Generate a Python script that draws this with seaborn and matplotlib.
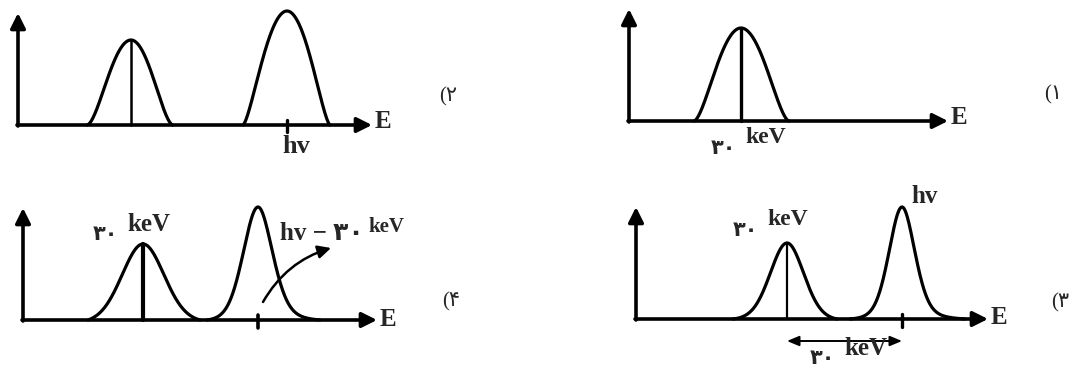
import numpy as np
import matplotlib
matplotlib.use("Agg")
import matplotlib.pyplot as plt
import seaborn as sns

sns.set_style("white")
plt.rcParams['font.family'] = ['Liberation Serif', 'DejaVu Sans']

# --- data (x, y in pixel units from each panel's origin) ---
panel_tags = ["(۱", "(۲", "(۳", "(۴"]
kev_digits = "۳۰"
kev_unit = "keV"
hv_label = "hv"
diff_label = "hv − ۳۰"
axis_label = "E"

# top panels: smooth bell peaks (center, height, half base, shape power)
p1_centers = [112]
p1_heights = [93]
p1_foot_l = [47]
p1_foot_r = [48]
p1_power = [1.7]

p2_centers = [113, 269]
p2_heights = [85, 114]
p2_foot_l = [44, 44]
p2_foot_r = [42, 43]
p2_power = [1.8, 1.5]

# bottom panels: gaussian-like peaks with tails
p3_centers = [151, 266]
p3_heights = [76, 112]
p3_hwhm = [20, 15.5]
p3_foot_l = [54, 52]
p3_foot_r = [50, 63]
p3_tail_l = [0.15, 0.25]
p3_tail_r = [0.15, 0.35]

p4_centers = [120, 235]
p4_heights = [76, 113]
p4_hwhm = [25, 17.5]
p4_foot_l = [55, 51]
p4_foot_r = [57, 62]
p4_tail_l = [0.1, 0.2]
p4_tail_r = [0.1, 0.35]

FW, FH = 1072, 379
fig = plt.figure(figsize=(FW / 100, FH / 100), dpi=100)


def side(u, hw, foot, eta):
    p = (1 - eta) * np.exp(-np.log(2) * (u / hw) ** 2) + eta / (1 + (u / hw) ** 2)
    p0 = (1 - eta) * np.exp(-np.log(2) * (foot / hw) ** 2) + eta / (1 + (foot / hw) ** 2)
    return np.clip((p - p0) / (1 - p0), 0, None)


def tail_peak(c, h, hw, fl, fr, el, er):
    ul = np.linspace(fl, 0, 120)
    ur = np.linspace(0, fr, 120)[1:]
    x = np.concatenate([c - ul, c + ur])
    y = np.concatenate([side(ul, hw, fl, el), side(ur, hw, fr, er)]) * h
    return x, y


def bell_peak(c, h, fl, fr, n):
    tl = np.linspace(1, 0, 120)
    tr = np.linspace(0, 1, 120)[1:]
    x = np.concatenate([c - tl * fl, c + tr * fr])
    y = np.concatenate([(1 - tl ** 2) ** n, (1 - tr ** 2) ** n]) * h
    return x, y


def make_panel(box, origin):
    x0, y0, x1, y1 = box
    ox, oy = origin
    ax = fig.add_axes([x0 / FW, 1 - y1 / FH, (x1 - x0) / FW, (y1 - y0) / FH])
    ax.set_xlim(x0 - ox, x1 - ox)
    ax.set_ylim(oy - y1, oy - y0)
    ax.axis('off')
    return ax


def draw_axes(ax, xlen, ylen, e_y):
    arrow = dict(arrowstyle='-|>,head_length=0.6,head_width=0.3', lw=2.6,
                 color='black', mutation_scale=15, shrinkA=0, shrinkB=0)
    ax.annotate('', xy=(xlen, 0), xytext=(-1, 0), arrowprops=arrow)
    ax.annotate('', xy=(0, ylen), xytext=(0, -1), arrowprops=arrow)
    ax.text(xlen + 3, e_y, axis_label, fontsize=18, fontweight='bold',
            ha='left', va='center')


def draw_line(ax, x, y, lw=2.3):
    sns.lineplot(x=x, y=y, ax=ax, color='black', linewidth=lw,
                 sort=False, estimator=None)


def kev_text(ax, x, y, fs_d=15, fs_u=17):
    # Persian digits sit low, the unit is raised like a superscript
    ax.text(x, y, kev_digits, fontsize=fs_d, fontweight='bold', ha='right',
            va='center', family=['DejaVu Sans'])
    ax.text(x + 9, y + 21, kev_unit, fontsize=fs_u, fontweight='bold',
            ha='left', va='top')


# ---- panel 1 (top right) ----
ax1 = make_panel((536, 0, 1072, 190), (629, 121))
draw_axes(ax1, 319, 112, 3)
for i in range(len(p1_centers)):
    draw_line(ax1, *bell_peak(p1_centers[i], p1_heights[i], p1_foot_l[i],
                              p1_foot_r[i], p1_power[i]))
ax1.plot([p1_centers[0]] * 2, [0, p1_heights[0]], color='black', lw=2.4)
kev_text(ax1, p1_centers[0] - 5, -27)
ax1.text(424, 26, panel_tags[0], fontsize=15, ha='center', va='center')

# ---- panel 2 (top left) ----
ax2 = make_panel((0, 0, 536, 190), (18, 125))
draw_axes(ax2, 354, 112, 3)
for i in range(len(p2_centers)):
    draw_line(ax2, *bell_peak(p2_centers[i], p2_heights[i], p2_foot_l[i],
                              p2_foot_r[i], p2_power[i]))
ax2.plot([p2_centers[0]] * 2, [0, p2_heights[0]], color='black', lw=1.8)
ax2.plot([p2_centers[1]] * 2, [-7, 5], color='black', lw=2.4)
ax2.text(p2_centers[1] + 9, -10, hv_label, fontsize=19, fontweight='bold',
         ha='center', va='top')
ax2.text(430, 28, panel_tags[1], fontsize=15, ha='center', va='center')

# ---- panel 3 (bottom right) ----
ax3 = make_panel((536, 190, 1072, 379), (636, 319))
draw_axes(ax3, 352, 112, 1)
for i in range(len(p3_centers)):
    draw_line(ax3, *tail_peak(p3_centers[i], p3_heights[i], p3_hwhm[i], p3_foot_l[i],
                              p3_foot_r[i], p3_tail_l[i], p3_tail_r[i]))
ax3.plot([p3_centers[0]] * 2, [0, p3_heights[0]], color='black', lw=1.6)
ax3.plot([p3_centers[1]] * 2, [-8, 5], color='black', lw=2.4)
ax3.text(p3_centers[1] + 23, p3_heights[1] + 4, hv_label, fontsize=18,
         fontweight='bold', ha='center', va='baseline')
kev_text(ax3, p3_centers[0] - 29, 89)
ax3.annotate('', xy=(p3_centers[1], -22), xytext=(p3_centers[0], -22),
             arrowprops=dict(arrowstyle='<|-|>,head_length=0.6,head_width=0.25',
                             lw=1.4, color='black', mutation_scale=12,
                             shrinkA=0, shrinkB=0))
kev_text(ax3, 199, -39, fs_u=18)
ax3.text(433, 16, panel_tags[2], fontsize=15, ha='right', va='center')

# ---- panel 4 (bottom left) ----
ax4 = make_panel((0, 190, 536, 379), (23, 320))
draw_axes(ax4, 354, 112, 0)
for i in range(len(p4_centers)):
    draw_line(ax4, *tail_peak(p4_centers[i], p4_heights[i], p4_hwhm[i], p4_foot_l[i],
                              p4_foot_r[i], p4_tail_l[i], p4_tail_r[i]))
ax4.plot([p4_centers[0]] * 2, [0, p4_heights[0]], color='black', lw=3.0)
ax4.plot([p4_centers[1]] * 2, [-8, 5], color='black', lw=2.6)
kev_text(ax4, p4_centers[0] - 25, 86, fs_u=18)
ax4.text(p4_centers[1] + 22, 80, diff_label, fontsize=18, fontweight='bold',
         ha='left', va='baseline')
ax4.text(p4_centers[1] + 110, 103, kev_unit, fontsize=15, fontweight='bold',
         ha='left', va='top')
ax4.annotate('', xy=(p4_centers[1] + 73, 72), xytext=(p4_centers[1] + 5, 18),
             arrowprops=dict(arrowstyle='-|>,head_length=0.6,head_width=0.3',
                             lw=1.8, color='black', mutation_scale=13,
                             shrinkA=0, shrinkB=0,
                             connectionstyle='arc3,rad=-0.2'))
ax4.text(428, 18, panel_tags[3], fontsize=15, ha='center', va='center')

fig.savefig("out.png", dpi=100)
